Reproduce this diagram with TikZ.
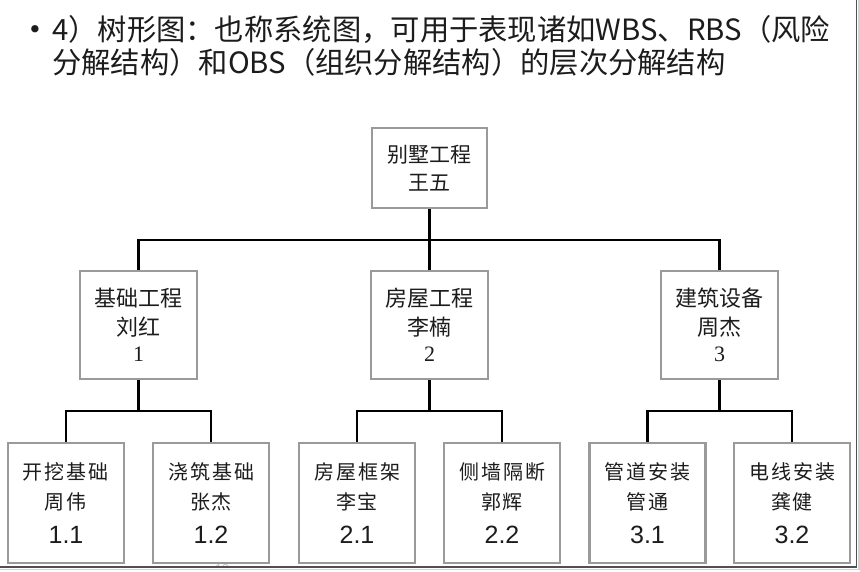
\documentclass[tikz,border=0pt]{standalone}
\usepackage{fontspec}
\setmainfont{Liberation Serif}
\newfontfamily\cjk{Noto Sans CJK SC}
\newfontfamily\cjksp[LetterSpace=10]{Noto Sans CJK SC}
\newfontfamily\lsans{Liberation Sans}
\newfontfamily\lserif{Liberation Serif}
\newfontfamily\bulfont{DejaVu Sans}
\usetikzlibrary{calc}
\definecolor{boxgray}{HTML}{9A9A9A}
\definecolor{textdark}{HTML}{1C1C1C}
\definecolor{framegray}{HTML}{505050}
\tikzset{
  x=1pt, y=-1pt,
  conn/.style={line width=2.4pt, black},
  boxbase/.style={draw=boxgray, line width=2.2pt, fill=white, inner sep=0pt, align=center, text=textdark},
  rootbox/.style={boxbase, minimum width=115pt, minimum height=80pt, font=\cjk\fontsize{21}{28}\selectfont},
  midbox/.style={boxbase, minimum width=117pt, minimum height=108pt, font=\cjk\fontsize{22}{29}\selectfont},
  leafbox/.style={boxbase, minimum width=116pt, minimum height=120pt, font=\cjksp\fontsize{20}{30}\selectfont},
  titletext/.style={anchor=west, inner sep=0pt, text=textdark, font=\cjk\fontsize{29.3}{32}\selectfont},
}
\newcommand{\midnum}[1]{{\lserif\fontsize{22}{22}\selectfont #1}}
\newcommand{\leafnum}[1]{{\lsans\fontsize{25}{25}\selectfont #1}}
\begin{document}
\begin{tikzpicture}
\useasboundingbox (0,0) rectangle (860,572);
\fill[white] (0,0) rectangle (860,572);

% title
\node[inner sep=0pt, text=textdark, font=\bulfont\fontsize{25}{25}\selectfont] (bul) at (35,32) {•};
\node[titletext] (t1) at (52,30) {4）树形图：也称系统图，可用于表现诸如WBS、RBS（风险};
\node[titletext] (t2) at (52,62) {分解结构）和OBS（组织分解结构）的层次分解结构};

% faint page number, partly hidden
\begin{scope}
\clip (0,0) rectangle (860,567);
\node[inner sep=0pt, text=gray!45, font=\lsans\fontsize{13}{13}\selectfont] (pg) at (222,569) {10};
\end{scope}

% boxes
\node[rootbox] (root) at (429.5,168) {别墅工程\\王五};

\node[midbox] (b1) at (138.5,325) {基础工程\\刘红\\[-3pt]\midnum{1}};
\node[midbox] (b2) at (429.5,325) {房屋工程\\李楠\\[-3pt]\midnum{2}};
\node[midbox] (b3) at (719.5,325) {建筑设备\\周杰\\[-3pt]\midnum{3}};

\node[leafbox] (c11) at (66,503)  {开挖基础\\周伟\\[4pt]\leafnum{1.1}};
\node[leafbox] (c12) at (211,503) {浇筑基础\\张杰\\[4pt]\leafnum{1.2}};
\node[leafbox] (c21) at (357,503) {房屋框架\\李宝\\[4pt]\leafnum{2.1}};
\node[leafbox] (c22) at (502,503) {侧墙隔断\\郭辉\\[4pt]\leafnum{2.2}};
\node[leafbox] (c31) at (647.5,503) {管道安装\\管通\\[4pt]\leafnum{3.1}};
\node[leafbox] (c32) at (792,503) {电线安装\\龚健\\[4pt]\leafnum{3.2}};

% connectors
\coordinate (j0) at (429.5,240);
\draw[conn] (root.south) -- (j0);
\draw[conn] (b1.north) |- (j0) -| (b3.north);
\draw[conn] (b2.north) -- (b2.north |- j0);

\coordinate (j1) at (138.5,411);
\coordinate (j2) at (429.5,411);
\coordinate (j3) at (719.5,411);
\draw[conn] (b1.south) -- (j1);
\draw[conn] (c11.north) |- (j1) -| (c12.north);
\draw[conn] (b2.south) -- (j2);
\draw[conn] (c21.north) |- (j2) -| (c22.north);
\draw[conn] (b3.south) -- (j3);
\draw[conn] (c31.north) |- (j3) -| (c32.north);

% screenshot frame
\draw[framegray, line width=1.6pt] (0,567) -- (856.5,567) -- (856.5,0);
\draw[gray!35, line width=1.5pt] (0,569.5) -- (859,569.5) -- (859,0);
\end{tikzpicture}
\end{document}
